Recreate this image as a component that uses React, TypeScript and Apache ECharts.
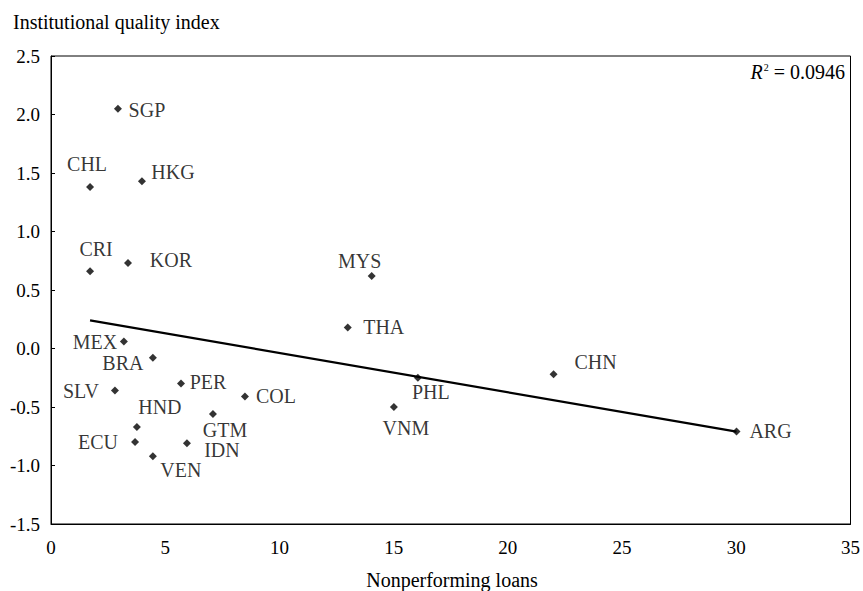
import React, { useEffect, useRef } from "react";
import * as echarts from "echarts";

const countries = ["SGP", "CHL", "HKG", "CRI", "KOR", "MEX", "BRA", "PER", "SLV", "COL", "HND", "GTM", "ECU", "IDN", "VEN", "MYS", "THA", "PHL", "VNM", "CHN", "ARG"];
const npl = [2.93, 1.71, 3.98, 1.71, 3.37, 3.19, 4.46, 5.69, 2.8, 8.49, 3.76, 7.09, 3.68, 5.95, 4.46, 14.04, 12.99, 16.06, 15.01, 22.0, 30.01];
const iqi = [2.05, 1.38, 1.43, 0.66, 0.73, 0.06, -0.08, -0.3, -0.36, -0.41, -0.67, -0.56, -0.8, -0.81, -0.92, 0.62, 0.18, -0.25, -0.5, -0.22, -0.71];
const trendX = [1.71, 30.01];
const trendY = [0.24, -0.71];
const xTicks = { min: 0, max: 35, interval: 5 };
const yTicks = { min: -1.5, max: 2.5, interval: 0.5 };
const r2Text = "0.0946";

// label centre offsets relative to each marker (layout only)
const labelOffsets: Record<string, [number, number]> = {
  SGP: [29, 1], CHL: [-3, -23], HKG: [31, -9], CRI: [6, -22], KOR: [43, -3],
  MEX: [-29, 1], BRA: [-30, 5], PER: [27, -2], SLV: [-34, 0], COL: [31, 0],
  HND: [23, -20], GTM: [12, 16], ECU: [-37, 0], IDN: [35, 7], VEN: [28, 14],
  MYS: [-12, -15], THA: [36, 0], PHL: [13, 14], VNM: [12, 21], CHN: [42, -12], ARG: [34, -1],
};

const FONT = "'Liberation Serif', 'DejaVu Serif', serif";

export default function App() {
  const ref = useRef<HTMLDivElement>(null);
  useEffect(() => {
    if (!ref.current) return;
    const chart = echarts.init(ref.current, undefined, { renderer: "svg" });
    const scatterData = countries.map((c, i) => ({
      name: c,
      value: [npl[i], iqi[i]],
      label: { offset: labelOffsets[c] },
    }));
    chart.setOption({
      animation: false,
      backgroundColor: "#fff",
      grid: { left: 51, right: 12, top: 56, bottom: 67, show: true, borderColor: "#000", borderWidth: 1 },
      xAxis: {
        type: "value",
        min: xTicks.min, max: xTicks.max, interval: xTicks.interval,
        axisLine: { show: true, onZero: false, lineStyle: { color: "#000", width: 1 } },
        axisTick: { show: false },
        splitLine: { show: false },
        axisLabel: { color: "#000", fontFamily: FONT, fontSize: 19, margin: 14 },
      },
      yAxis: {
        type: "value",
        min: yTicks.min, max: yTicks.max, interval: yTicks.interval,
        axisLine: { show: true, onZero: false, lineStyle: { color: "#000", width: 1 } },
        axisTick: { show: true, inside: true, length: 4, lineStyle: { color: "#000" } },
        splitLine: { show: false },
        axisLabel: { color: "#000", fontFamily: FONT, fontSize: 19, margin: 11, formatter: (v: number) => v.toFixed(1) },
      },
      graphic: [
        { type: "text", left: 13, top: 12, style: { text: "Institutional quality index", fontFamily: FONT, fontSize: 20, fill: "#000" } },
        { type: "text", x: 452, y: 580, style: { text: "Nonperforming loans", fontFamily: FONT, fontSize: 20, fill: "#000", align: "center", verticalAlign: "middle" } },
        {
          type: "text", x: 845, y: 72,
          style: {
            text: "{i|R}{s|2}{n| = " + r2Text + "}",
            align: "right", verticalAlign: "middle",
            rich: {
              i: { fontFamily: FONT, fontSize: 20, fontStyle: "italic", fill: "#000" },
              s: { fontFamily: FONT, fontSize: 10, fill: "#000", padding: [0, 0, 10, 1] },
              n: { fontFamily: FONT, fontSize: 20, fill: "#000" },
            },
          },
        },
      ],
      series: [
        {
          type: "line",
          data: trendX.map((x, i) => [x, trendY[i]]),
          showSymbol: false,
          lineStyle: { color: "#000", width: 2.2 },
          z: 2,
        },
        {
          type: "scatter",
          data: scatterData,
          symbol: "diamond",
          symbolSize: 8,
          itemStyle: { color: "#000" },
          label: {
            show: true,
            position: "inside",
            formatter: "{b}",
            color: "#000",
            fontFamily: FONT,
            fontSize: 20,
            align: "center",
            verticalAlign: "middle",
          },
          z: 3,
        },
      ],
    });
    return () => chart.dispose();
  }, []);
  return <div ref={ref} style={{ position: "absolute", left: 0, top: 0, width: 863, height: 591 }} />;
}
